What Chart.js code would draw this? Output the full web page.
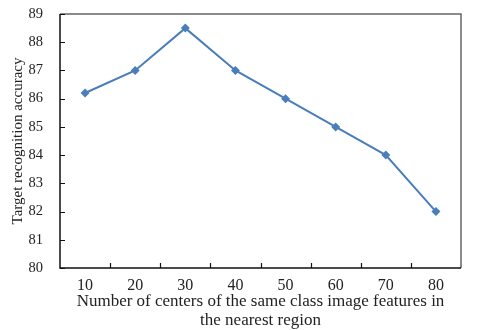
<!DOCTYPE html>
<html>
<head>
<meta charset="utf-8">
<script src="https://cdn.jsdelivr.net/npm/chart.js@4"></script>
<style>
  html, body { margin: 0; padding: 0; background: #fff; }
  #wrap { width: 480px; height: 330px; }
</style>
</head>
<body>
<div id="wrap"><canvas id="chart" width="480" height="330"></canvas></div>
<script>
const centers = ['10', '20', '30', '40', '50', '60', '70', '80'];
const accuracy = [86.2, 87, 88.5, 87, 86, 85, 84, 82];
const yMin = 80;
const yMax = 89;

// draws the plot box and short inward ticks like the original figure
const frame = {
  id: 'frame',
  afterDraw(chart) {
    const ctx = chart.ctx;
    const a = chart.chartArea;
    const x = chart.scales.x;
    const y = chart.scales.y;
    ctx.save();
    ctx.lineWidth = 1.5;
    ctx.strokeStyle = '#666';
    ctx.beginPath();
    ctx.moveTo(a.left, a.top);
    ctx.lineTo(a.right, a.top);
    ctx.lineTo(a.right, a.bottom);
    ctx.stroke();
    ctx.strokeStyle = '#111';
    ctx.beginPath();
    ctx.moveTo(a.left, a.top);
    ctx.lineTo(a.left, a.bottom);
    ctx.lineTo(a.right, a.bottom);
    ctx.stroke();
    ctx.lineWidth = 1.2;
    ctx.beginPath();
    y.ticks.forEach(t => {
      const py = Math.round(y.getPixelForValue(t.value)) + 0.5;
      ctx.moveTo(a.left, py);
      ctx.lineTo(a.left + 5, py);
    });
    for (let i = 1; i < centers.length; i++) {
      const px = Math.round((x.getPixelForValue(i - 1) + x.getPixelForValue(i)) / 2) + 0.5;
      ctx.moveTo(px, a.bottom);
      ctx.lineTo(px, a.bottom - 5);
    }
    ctx.stroke();
    ctx.restore();
  }
};

new Chart(document.getElementById('chart'), {
  type: 'line',
  data: {
    labels: centers,
    datasets: [{
      data: accuracy,
      borderColor: '#4a7ebb',
      backgroundColor: '#4a7ebb',
      borderWidth: 2,
      pointStyle: 'rectRot',
      pointRadius: 4.5,
      pointBorderWidth: 0,
      tension: 0
    }]
  },
  options: {
    responsive: false,
    animation: false,
    devicePixelRatio: 1,
    layout: { padding: { top: 14, right: 19, left: 0, bottom: 0 } },
    plugins: {
      legend: { display: false },
      tooltip: { enabled: false }
    },
    scales: {
      x: {
        offset: true,
        grid: { display: false },
        border: { display: false },
        ticks: {
          color: '#222',
          padding: 0,
          font: { family: 'Liberation Serif', size: 16 }
        },
        title: {
          display: true,
          text: ['Number of centers of the same class image features in', 'the nearest region'],
          color: '#222',
          padding: { top: 0, bottom: 0 },
          font: { family: 'Liberation Serif', size: 17, lineHeight: 1.12 }
        },
        afterFit: s => { s.height = 62; }
      },
      y: {
        min: yMin,
        max: yMax,
        grid: { display: false },
        border: { display: false },
        ticks: {
          stepSize: 1,
          color: '#222',
          padding: 9,
          font: { family: 'Liberation Serif', size: 14.5 }
        },
        title: {
          display: true,
          text: 'Target recognition accuracy',
          color: '#222',
          padding: { top: 9, bottom: 0 },
          font: { family: 'Liberation Serif', size: 15 }
        },
        afterFit: s => {
          s.width = 60;
          s.paddingTop = 0;
          s.paddingBottom = 0;
        }
      }
    }
  },
  plugins: [frame]
});
</script>
</body>
</html>
